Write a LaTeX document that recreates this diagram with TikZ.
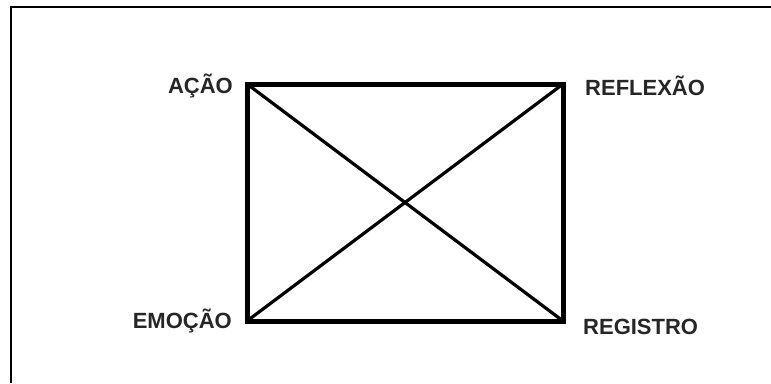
\documentclass[tikz,border=0pt]{standalone}
\usepackage{fontspec}
\setmainfont{Liberation Sans}
\usetikzlibrary{positioning}

\begin{document}
\begin{tikzpicture}[x=1pt, y=-1pt,
    corner/.style={font=\fontsize{22}{25}\selectfont\bfseries, text=black!85, inner sep=0pt}]
    \useasboundingbox (0,0) rectangle (771,383);

    % frame (left and top edges only)
    \draw[line width=2pt] (11,383) -- (11,7) -- (771,7);

    \coordinate (acao) at (247,84);
    \coordinate (reflexao) at (563,84);
    \coordinate (emocao) at (247,321);
    \coordinate (registro) at (563,321);

    \draw[line width=5pt, line join=miter] (acao) -- (reflexao) -- (registro) -- (emocao) -- cycle;
    \draw[line width=3.2pt] (acao) -- (registro);
    \draw[line width=3.2pt] (emocao) -- (reflexao);

    \node[corner, anchor=east] (lacao) at (233,86) {AÇÃO};
    \node[corner, anchor=west] (lreflexao) at (585,86) {REFLEXÃO};
    \node[corner, anchor=east] (lemocao) at (232,321) {EMOÇÃO};
    \node[corner, anchor=west] (lregistro) at (583,327) {REGISTRO};
\end{tikzpicture}
\end{document}
